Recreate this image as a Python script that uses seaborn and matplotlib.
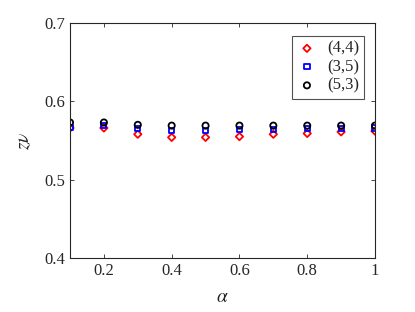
import numpy as np
import pandas as pd
import matplotlib
matplotlib.use("Agg")
import matplotlib.pyplot as plt
import seaborn as sns

alpha = [0.1, 0.2, 0.3, 0.4, 0.5, 0.6, 0.7, 0.8, 0.9, 1.0]
zv_44 = [0.566, 0.566, 0.558, 0.554, 0.554, 0.555, 0.558, 0.559, 0.561, 0.562]
zv_35 = [0.567, 0.569, 0.565, 0.563, 0.563, 0.564, 0.564, 0.565, 0.565, 0.566]
zv_53 = [0.573, 0.573, 0.570, 0.569, 0.569, 0.569, 0.569, 0.569, 0.569, 0.569]
labels = ["(4,4)", "(3,5)", "(5,3)"]
xticks = [0.2, 0.4, 0.6, 0.8, 1.0]
xticklabels = ["0.2", "0.4", "0.6", "0.8", "1"]
yticks = [0.4, 0.5, 0.6, 0.7]

df = pd.DataFrame({
    "alpha": alpha * 3,
    "zv": zv_44 + zv_35 + zv_53,
    "series": [labels[0]] * 10 + [labels[1]] * 10 + [labels[2]] * 10,
})

sns.set_style("ticks")
plt.rcParams["font.family"] = ["Liberation Serif", "DejaVu Serif"]
plt.rcParams["mathtext.fontset"] = "stix"

fig = plt.figure(figsize=(4.15, 3.12), dpi=100)
ax = fig.add_axes([70 / 415, 54 / 312, 305 / 415, 235 / 312])

colors = {"(4,4)": "#ff0000", "(3,5)": "#0000ff", "(5,3)": "#000000"}
markers = {"(4,4)": "D", "(3,5)": "s", "(5,3)": "o"}
msize = {"(4,4)": 14, "(3,5)": 14, "(5,3)": 20}
for lab in labels:
    sub = df[df["series"] == lab]
    sns.scatterplot(data=sub, x="alpha", y="zv", ax=ax, marker=markers[lab],
                    s=msize[lab], facecolors="none", edgecolor=colors[lab],
                    linewidth=1.3, label=lab)

ax.set_xlim(0.1, 1.0)
ax.set_ylim(0.4, 0.7)
ax.set_xticks(xticks)
ax.set_xticklabels(xticklabels)
ax.set_yticks(yticks)
ax.tick_params(direction="in", top=True, right=True, labelsize=12, length=3,
               width=0.6, colors="#262626", labelcolor="#262626")
for sp in ax.spines.values():
    sp.set_visible(True)
    sp.set_linewidth(0.8)
    sp.set_color("#262626")
ax.set_xlabel(r"$\alpha$", fontsize=14, labelpad=7)
ax.set_ylabel(r"$z\nu$", fontsize=14, labelpad=8)

leg = ax.legend(loc="upper right", bbox_to_anchor=(0.975, 0.96), fontsize=12,
                frameon=True, fancybox=False, handletextpad=0.6,
                borderpad=0.3, labelspacing=0.15, handlelength=1.2,
                borderaxespad=0.2)
leg.get_frame().set_edgecolor("#262626")
leg.get_frame().set_linewidth(0.8)

fig.savefig("out.png", dpi=100)
